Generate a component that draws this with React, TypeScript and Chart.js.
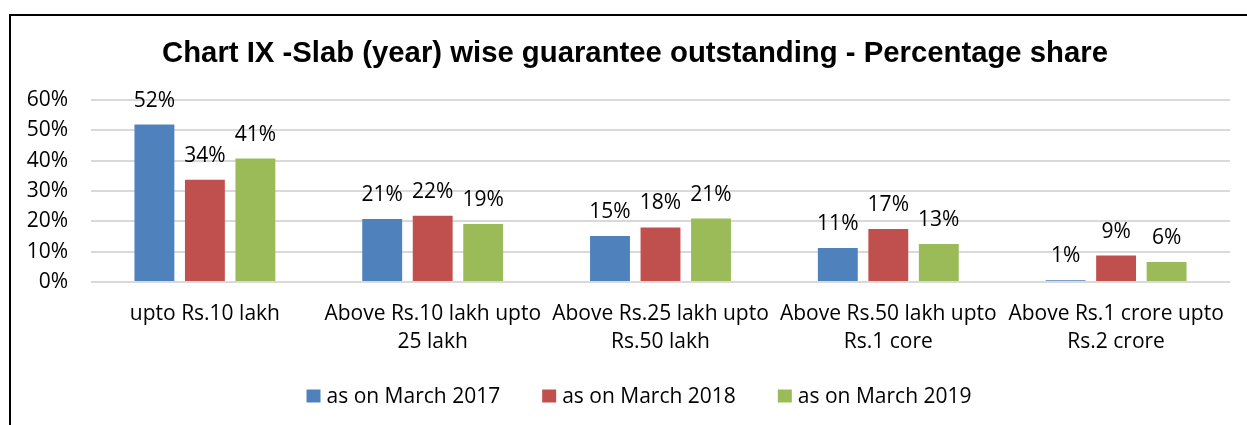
import React, { useEffect, useRef } from "react";
import { Chart, registerables } from "chart.js";

Chart.register(...registerables);

const categories: string[][] = [
  ["upto Rs.10 lakh"],
  ["Above Rs.10 lakh upto", "25 lakh"],
  ["Above Rs.25 lakh upto", "Rs.50 lakh"],
  ["Above Rs.50 lakh upto", "Rs.1 core"],
  ["Above Rs.1 crore upto", "Rs.2 crore"],
];
const seriesNames = ["as on March 2017", "as on March 2018", "as on March 2019"];
const march2017 = [51.9, 20.8, 15.2, 11.2, 0.6];
const march2018 = [33.7, 21.8, 18.0, 17.5, 8.7];
const march2019 = [40.7, 19.1, 20.9, 12.5, 6.6];
const labels2017 = ["52%", "21%", "15%", "11%", "1%"];
const labels2018 = ["34%", "22%", "18%", "17%", "9%"];
const labels2019 = ["41%", "19%", "21%", "13%", "6%"];
const yTicks = [0, 10, 20, 30, 40, 50, 60];
const colors = ["#4f81bd", "#c0504d", "#9bbb59"];
const titleText = "Chart IX -Slab (year) wise guarantee outstanding - Percentage share";

const FONT = "'Open Sans', Lato, sans-serif";

const titlePlugin = {
  id: "customTitle",
  afterDraw(chart: any) {
    const ctx = chart.ctx;
    ctx.save();
    ctx.font = `bold 29.3px 'Liberation Sans', Arial, sans-serif`;
    ctx.fillStyle = "#000";
    ctx.textAlign = "center";
    ctx.textBaseline = "alphabetic";
    ctx.fillText(titleText, 635, 62);
    ctx.restore();
  },
};

const valueLabelPlugin = {
  id: "valueLabels",
  afterDatasetsDraw(chart: any) {
    const ctx = chart.ctx;
    const all = [labels2017, labels2018, labels2019];
    ctx.save();
    ctx.font = `21px ${FONT}`;
    ctx.fillStyle = "#000";
    ctx.textAlign = "center";
    ctx.textBaseline = "alphabetic";
    chart.data.datasets.forEach((ds: any, i: number) => {
      const meta = chart.getDatasetMeta(i);
      meta.data.forEach((el: any, j: number) => {
        ctx.fillText(all[i][j], el.x, el.y - 18);
      });
    });
    ctx.restore();
  },
};

const customLegendPlugin = {
  id: "customLegend",
  afterDraw(chart: any) {
    const ctx = chart.ctx;
    ctx.save();
    ctx.font = `21px ${FONT}`;
    const boxW = 14;
    const boxH = 13;
    const textGap = 6;
    const itemGap = 42;
    const widths = chart.data.datasets.map(
      (ds: any) => boxW + textGap + ctx.measureText(ds.label).width
    );
    const total = widths.reduce((a: number, b: number) => a + b, 0) + itemGap * (widths.length - 1);
    let x = 639 - total / 2;
    const cy = 396;
    chart.data.datasets.forEach((ds: any, i: number) => {
      ctx.fillStyle = ds.backgroundColor;
      ctx.fillRect(x, cy - boxH / 2, boxW, boxH);
      ctx.fillStyle = "#000";
      ctx.textAlign = "left";
      ctx.textBaseline = "middle";
      ctx.fillText(ds.label, x + boxW + textGap, cy + 1);
      x += widths[i] + itemGap;
    });
    ctx.restore();
  },
};

export default function App() {
  const ref = useRef<HTMLCanvasElement>(null);
  useEffect(() => {
    if (!ref.current) return;
    const chart = new Chart(ref.current, {
      type: "bar",
      data: {
        labels: categories,
        datasets: [march2017, march2018, march2019].map((d, i) => ({
          label: seriesNames[i],
          data: d,
          backgroundColor: colors[i],
          categoryPercentage: 0.665,
          barPercentage: 0.79,
        })),
      },
      options: {
        animation: false,
        responsive: false,
        layout: { padding: { left: 0, right: 17, top: 100, bottom: 71 } },
        plugins: {
          legend: { display: false },
          tooltip: { enabled: false },
          title: { display: false },
        },
        scales: {
          x: {
            grid: { display: false },
            border: { display: false },
            afterFit: (s: any) => {
              s.height = 72;
            },
            ticks: {
              color: "#000",
              font: { family: FONT, size: 21, lineHeight: 1.33 },
              padding: 10,
              autoSkip: false,
              maxRotation: 0,
            },
          },
          y: {
            min: 0,
            max: 60,
            afterFit: (s: any) => {
              s.width = 91;
            },
            afterBuildTicks: (s: any) => {
              s.ticks = yTicks.map((v) => ({ value: v }));
            },
            grid: { color: "#d9d9d9", lineWidth: 2, drawTicks: false },
            border: { display: false },
            ticks: {
              color: "#000",
              font: { family: FONT, size: 21 },
              padding: 23,
              callback: (v: any) => `${v}%`,
            },
          },
        },
      },
      plugins: [titlePlugin, valueLabelPlugin, customLegendPlugin],
    });
    return () => chart.destroy();
  }, []);

  return (
    <div
      style={{
        position: "fixed",
        left: 0,
        top: 0,
        width: 1247,
        height: 425,
        overflow: "hidden",
        background: "#fff",
      }}
    >
      <div
        style={{
          position: "absolute",
          left: 9,
          top: 14,
          width: 1400,
          height: 600,
          border: "2px solid #000",
          boxSizing: "border-box",
        }}
      />
      <canvas ref={ref} width={1247} height={425} style={{ position: "absolute", left: 0, top: 0 }} />
    </div>
  );
}
